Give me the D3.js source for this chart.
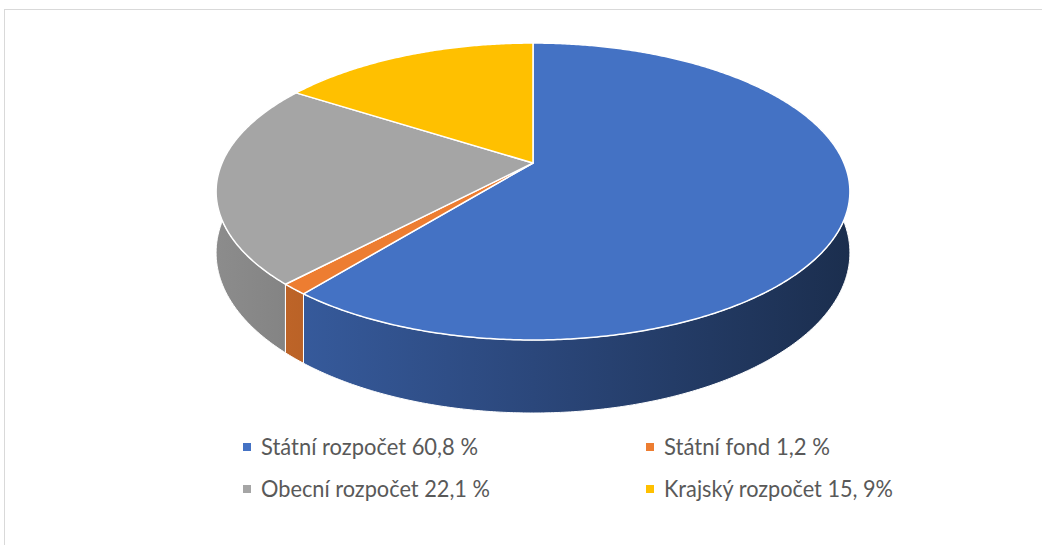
<!DOCTYPE html>
<html>
<head>
<meta charset="utf-8">
<script src="https://cdn.jsdelivr.net/npm/d3@7"></script>
<style>
  body { margin: 0; background: #ffffff; }
  svg { display: block; }
</style>
</head>
<body>
<div id="chart"></div>
<script>
// data
let categories = ["Státní rozpočet", "Státní fond", "Obecní rozpočet", "Krajský rozpočet"];
let values = [60.8, 1.2, 22.1, 15.9];
let legendLabels = ["Státní rozpočet 60,8 %", "Státní fond 1,2 %", "Obecní rozpočet 22,1 %", "Krajský rozpočet 15, 9%"];
let colors = ["#4472C4", "#ED7D31", "#A5A5A5", "#FFC000"];

let svgWidth = 1042;
let svgHeight = 545;

// 3d pie geometry (perspective look like excel)
let cx = 533, cy = 163;   // projected centre of the top face
let A = 311, B = 143;     // radii before perspective
let k = 0.192;            // perspective strength
let H = 59;               // thickness

let svg = d3.select("#chart")
  .append("svg")
  .attr("width", svgWidth)
  .attr("height", svgHeight);

// chart frame (only top and left edges show in the crop)
svg.append("rect")
  .attr("x", 4.5)
  .attr("y", 9.5)
  .attr("width", 1200)
  .attr("height", 800)
  .attr("fill", "#ffffff")
  .attr("stroke", "#d9d9d9")
  .attr("stroke-width", 1);

// project angle (clockwise from 12 o'clock) on top (depth 0) or bottom (depth 1)
function proj(theta, depth) {
  let u = Math.sin(theta), v = -Math.cos(theta);
  let p = 1 / (1 - k * v);
  return [cx + A * u * p, cy + B * v * p + depth * H * p];
}

function arcPoints(a0, a1, depth) {
  let n = Math.max(2, Math.ceil((a1 - a0) / (Math.PI / 360)));
  return d3.range(n + 1).map(i => proj(a0 + (a1 - a0) * i / n, depth));
}

let pie = d3.pie().sort(null).value(d => d);
let arcs = pie(values);

let line = d3.line();

// side shading gradients, lighter on the left, darker on the right
let defs = svg.append("defs");
colors.forEach(function(c, i) {
  let base = d3.rgb(c);
  let grad = defs.append("linearGradient")
    .attr("id", "side" + i)
    .attr("gradientUnits", "userSpaceOnUse")
    .attr("x1", cx - A * 1.02).attr("x2", cx + A * 1.02)
    .attr("y1", 0).attr("y2", 0);
  [0, 0.5, 1].forEach(function(t) {
    let f = 0.85 - 0.45 * t;
    grad.append("stop")
      .attr("offset", t)
      .attr("stop-color", d3.rgb(base.r * f, base.g * f, base.b * f).formatHex());
  });
});

// walls, far ones first
let walls = arcs.map((d, i) => ({d: d, i: i, v: -Math.cos((d.startAngle + d.endAngle) / 2)}))
  .sort((a, b) => a.v - b.v);

svg.append("g").selectAll("path")
  .data(walls)
  .enter()
  .append("path")
  .attr("d", function(w) {
    let top = arcPoints(w.d.startAngle, w.d.endAngle, 0);
    let bottom = arcPoints(w.d.startAngle, w.d.endAngle, 1).reverse();
    return line(top.concat(bottom)) + "Z";
  })
  .attr("fill", w => "url(#side" + w.i + ")")
  .attr("stroke", "#ffffff")
  .attr("stroke-width", 1)
  .attr("stroke-linejoin", "round");

// top faces
svg.append("g").selectAll("path")
  .data(arcs)
  .enter()
  .append("path")
  .attr("d", function(d) {
    let pts = [[cx, cy]].concat(arcPoints(d.startAngle, d.endAngle, 0));
    return line(pts) + "Z";
  })
  .attr("fill", (d, i) => colors[i])
  .attr("stroke", "#ffffff")
  .attr("stroke-width", 1.5)
  .attr("stroke-linejoin", "round");

// legend, two columns
let legendX = [243, 646];
let legendY = [447, 489];
let textWidths = [217, 166, 229, 229];

let legend = svg.append("g")
  .selectAll("g")
  .data(legendLabels)
  .enter()
  .append("g")
  .attr("transform", (d, i) => `translate(${legendX[i % 2]},${legendY[Math.floor(i / 2)]})`);

legend.append("rect")
  .attr("x", 0)
  .attr("y", -4)
  .attr("width", 8)
  .attr("height", 8)
  .attr("fill", (d, i) => colors[i]);

legend.append("text")
  .attr("x", 18)
  .attr("y", 8)
  .attr("font-family", "Lato, 'Open Sans', sans-serif")
  .attr("font-size", "23px")
  .attr("fill", "#595959")
  .attr("textLength", (d, i) => textWidths[i])
  .attr("lengthAdjust", "spacingAndGlyphs")
  .text(d => d);
</script>
</body>
</html>
